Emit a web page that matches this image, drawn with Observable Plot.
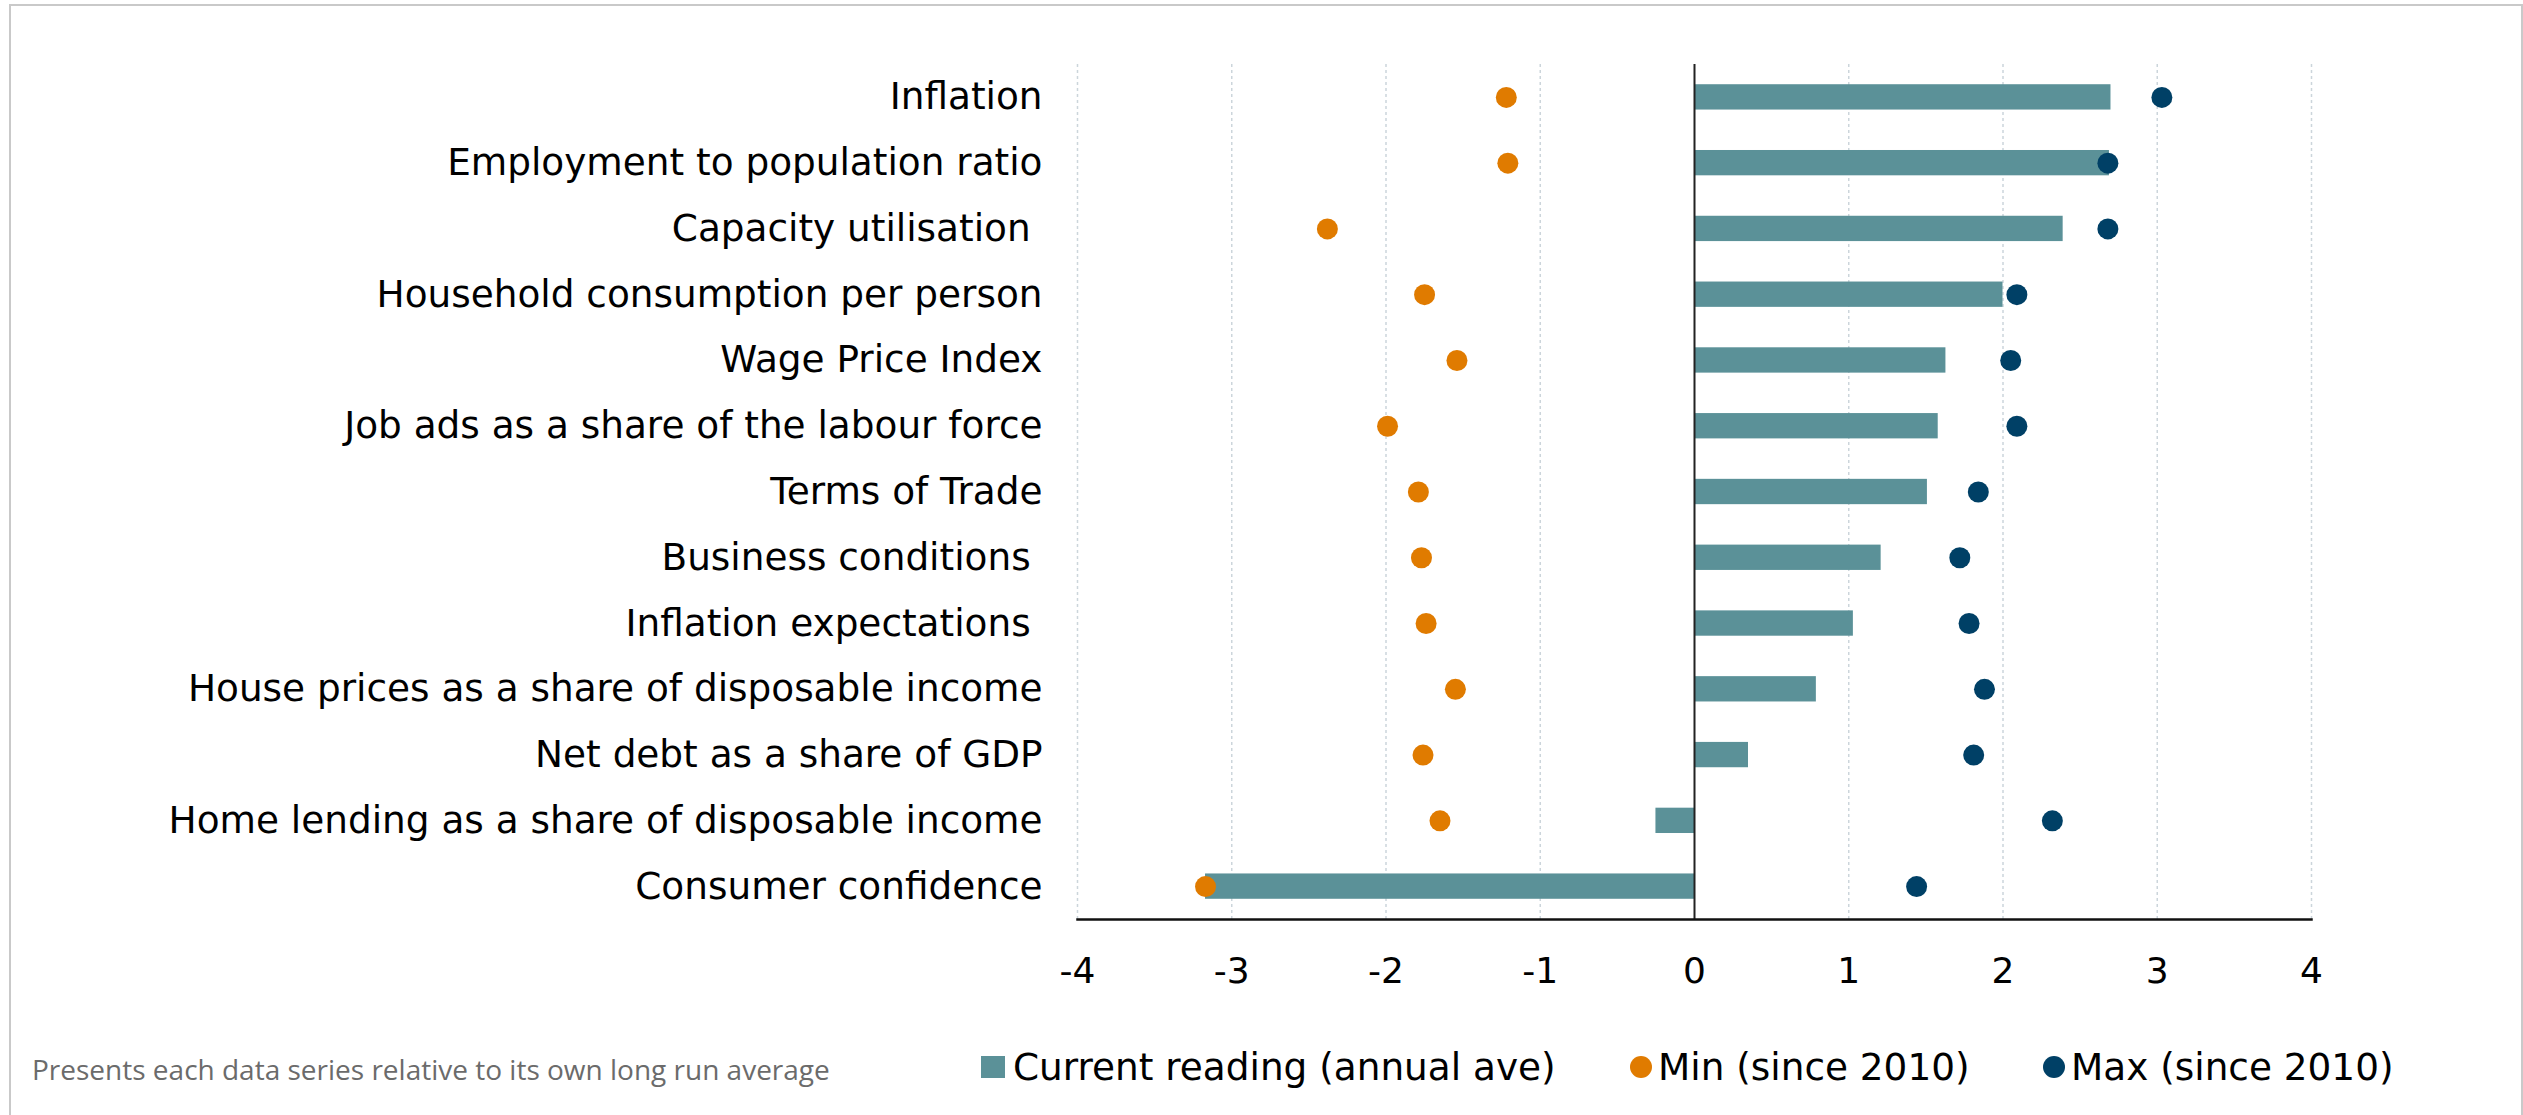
<!DOCTYPE html>
<html>
<head>
<meta charset="utf-8">
<script src="https://cdn.jsdelivr.net/npm/d3@7"></script>
<script src="https://cdn.jsdelivr.net/npm/@observablehq/plot@0.6"></script>
<style>
  html, body { margin: 0; padding: 0; background: #fff; overflow: hidden; }
  #page { position: relative; width: 2523px; height: 1115px; background: #fff; }
  #frame { position: absolute; left: 9px; top: 4px; width: 2510px; height: 1115px;
           border: 2px solid #c9c9c9; border-bottom: none; pointer-events: none; }
  #chart { position: absolute; left: 0; top: 0; }
  #footer { position: absolute; left: 32px; top: 1049px; height: 40px; line-height: 40px;
            font-family: "Open Sans", sans-serif; font-size: 28px; color: #6b6b6b; white-space: nowrap; }
  .leg { position: absolute; top: 1047px; height: 40px; line-height: 40px; display: flex; align-items: center;
         font-family: "DejaVu Sans", sans-serif; font-size: 37.4px; color: #000; white-space: nowrap; }
  .sq { width: 24px; height: 22px; margin-right: 8px; display: inline-block; }
  .ci { width: 22px; height: 22px; border-radius: 50%; margin-right: 6px; display: inline-block; }
</style>
</head>
<body>
<div id="page">
  <div id="chart"></div>
  <div id="footer"></div>
  <div id="legend"></div>
  <div id="frame"></div>
</div>
<script>
const categories = [
  "Inflation",
  "Employment to population ratio",
  "Capacity utilisation ",
  "Household consumption per person",
  "Wage Price Index",
  "Job ads as a share of the labour force",
  "Terms of Trade",
  "Business conditions ",
  "Inflation expectations ",
  "House prices as a share of disposable income",
  "Net debt as a share of GDP",
  "Home lending as a share of disposable income",
  "Consumer confidence"
];
const currentReading = [2.70, 2.69, 2.39, 2.00, 1.63, 1.58, 1.51, 1.21, 1.03, 0.79, 0.35, -0.25, -3.17];
const minSince2010 = [-1.22, -1.21, -2.38, -1.75, -1.54, -1.99, -1.79, -1.77, -1.74, -1.55, -1.76, -1.65, -3.17];
const maxSince2010 = [3.03, 2.68, 2.68, 2.09, 2.05, 2.09, 1.84, 1.72, 1.78, 1.88, 1.81, 2.32, 1.44];
const xTicks = [-4, -3, -2, -1, 0, 1, 2, 3, 4];
const seriesNames = ["Current reading (annual ave)", "Min (since 2010)", "Max (since 2010)"];
const seriesColors = ["#5b9198", "#e07b00", "#004066"];
const footnote = "Presents each data series relative to its own long run average";

const rows = categories.map((c, i) => ({
  category: c, current: currentReading[i], min: minSince2010[i], max: maxSince2010[i]
}));

const chart = Plot.plot({
  width: 2523,
  height: 1020,
  marginTop: 64,
  marginBottom: 101,
  marginLeft: 1077,
  marginRight: 212,
  style: { fontFamily: "DejaVu Sans", background: "white", color: "black", overflow: "visible" },
  x: { domain: [-4, 4], ticks: xTicks },
  y: { domain: categories, paddingInner: 0.615, paddingOuter: 0.3075, align: 0.5, round: false },
  marks: [
    Plot.ruleX(xTicks.filter(d => d !== 0), { stroke: "#ccd5db", strokeWidth: 1.5, strokeDasharray: "3,3" }),
    Plot.barX(rows, { y: "category", x: "current", fill: seriesColors[0] }),
    Plot.ruleX([0], { stroke: "#222", strokeWidth: 2 }),
    Plot.frame({ anchor: "bottom", stroke: "#111", strokeWidth: 2.5 }),
    Plot.dot(rows, { y: "category", x: "min", r: 10.5, fill: seriesColors[1] }),
    Plot.dot(rows, { y: "category", x: "max", r: 10.5, fill: seriesColors[2] }),
    Plot.axisX({ ticks: xTicks, tickSize: 0, tickPadding: 38, fontSize: 36, label: null, tickFormat: d => String(d) }),
    Plot.axisY({ tickSize: 0, tickPadding: 35, fontSize: 37.4, label: null, tickFormat: d => d.replace(/ $/, "\u00a0") })
  ]
});
document.getElementById("chart").appendChild(chart);

document.getElementById("footer").textContent = footnote;

const legendLefts = [981, 1630, 2043];
const legend = document.getElementById("legend");
seriesNames.forEach((name, i) => {
  const item = document.createElement("div");
  item.className = "leg";
  item.style.left = legendLefts[i] + "px";
  const m = document.createElement("span");
  m.className = i === 0 ? "sq" : "ci";
  m.style.background = seriesColors[i];
  const t = document.createElement("span");
  t.textContent = name;
  item.appendChild(m);
  item.appendChild(t);
  legend.appendChild(item);
});
</script>
</body>
</html>
